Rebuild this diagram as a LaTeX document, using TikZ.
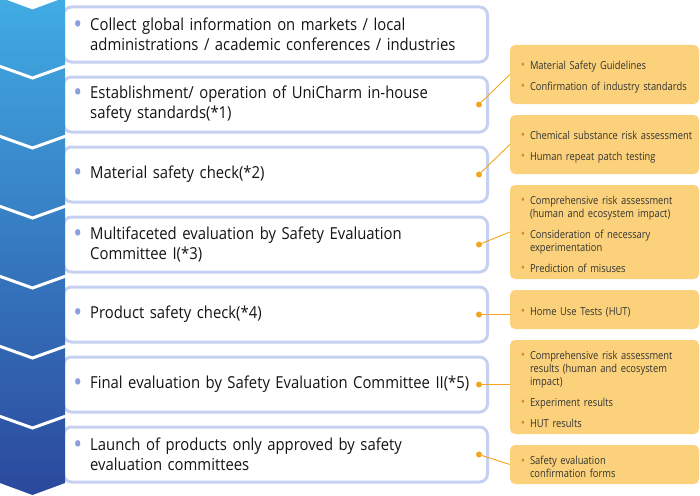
\documentclass[tikz,border=0pt]{standalone}
\usepackage{fontspec}
\setmainfont[FakeStretch=0.9]{Open Sans}
\newfontfamily\notefont[FakeStretch=0.85]{Open Sans}
\usepackage{xcolor}
\usepackage{tikz}
\definecolor{chevtop}{HTML}{41ACE3}
\definecolor{chevmid}{HTML}{337DC9}
\definecolor{chevbot}{HTML}{2B489D}
\definecolor{boxline}{HTML}{C6D1F1}
\definecolor{bulletblue}{HTML}{8A9EE0}
\definecolor{notefill}{HTML}{FBD27B}
\definecolor{notedot}{HTML}{DC8A25}
\definecolor{linkorange}{HTML}{F2A51E}
\definecolor{textdark}{HTML}{141414}
\definecolor{notetext}{HTML}{333333}
\newcommand{\stepdot}{\leavevmode\llap{\textcolor{bulletblue}{\raisebox{-3pt}{\scalebox{1.6}{•}}}\hspace{8pt}}}
\newcommand{\noteitem}[1]{\par\hangindent=14.5pt\hangafter=0\noindent
  \llap{\textcolor{notedot}{\raisebox{-0.8pt}{\scalebox{1.2}{•}}}\hspace{5pt}}#1\par}
\newcommand{\notegap}{\vspace{8pt}}
\tikzset{
  stepbox/.style={draw=boxline, line width=3pt, rounded corners=8pt, fill=white,
    minimum width=424pt, minimum height=55pt, inner sep=0pt},
  steptext/.style={anchor=west, text width=395pt, align=left, inner sep=0pt,
    text=textdark, font=\fontsize{16.5}{20}\selectfont},
  notebox/.style={fill=notefill, rounded corners=5pt, minimum width=189pt,
    text width=178pt, inner xsep=5.5pt, inner ysep=0pt, align=left,
    text=notetext, font=\notefont\fontsize{11}{13}\selectfont},
  linkdot/.style={circle, fill=linkorange, inner sep=0pt, minimum size=6pt},
  link/.style={linkorange, line width=0.9pt},
}
\begin{document}
\begin{tikzpicture}[x=1pt, y=-1pt]
  \useasboundingbox (0,0) rectangle (700,495);

  % --- steps (middle column), 70pt apart ---
  \node[stepbox] (b1) at (275.5,34.5) {};
  \node[stepbox] (b2) at (275.5,104.5) {};
  \node[stepbox] (b3) at (275.5,174.5) {};
  \node[stepbox] (b4) at (275.5,244.5) {};
  \node[stepbox] (b5) at (275.5,314.5) {};
  \node[stepbox] (b6) at (275.5,384.5) {};
  \node[stepbox] (b7) at (275.5,454.5) {};
  \node[steptext] (s1) at (90,34.5) {\stepdot Collect global information on markets / local\\
    administrations / academic conferences / industries};
  \node[steptext] (s2) at (90,104.5) {\stepdot Establishment/ operation of UniCharm in-house\\
    safety standards(*1)};
  \node[steptext] (s3) at (90,174.5) {\stepdot Material safety check(*2)};
  \node[steptext] (s4) at (90,244.5) {\stepdot Multifaceted evaluation by Safety Evaluation\\
    Committee I(*3)};
  \node[steptext] (s5) at (90,314.5) {\stepdot Product safety check(*4)};
  \node[steptext] (s6) at (90,384.5) {\stepdot Final evaluation by Safety Evaluation Committee II(*5)};
  \node[steptext] (s7) at (90,454.5) {\stepdot Launch of products only approved by safety\\
    evaluation committees};

  % --- chevron column ---
  \shade[top color=chevtop, middle color=chevmid, bottom color=chevbot]
    (0,-2.5) -- (32.5,9.5) -- (65,-2.5) -- (65,483) -- (32.5,495) -- (0,483) -- cycle;
  \foreach \k in {0,...,5}
    \draw[white, line width=3pt] (-1,{66+70*\k}) -- (32.5,{78+70*\k}) -- (66,{66+70*\k});

  % --- notes (right column) ---
  \node[notebox, minimum height=59pt] (n1) at (604.5,74.5)
    {\noteitem{Material Safety Guidelines}\notegap
     \noteitem{Confirmation of industry standards}};
  \node[notebox, minimum height=59pt] (n2) at (604.5,144.5)
    {\noteitem{Chemical substance risk assessment}\notegap
     \noteitem{Human repeat patch testing}};
  \node[notebox, minimum height=94pt] (n3) at (604.5,232)
    {\noteitem{Comprehensive risk assessment\newline (human and ecosystem impact)}\notegap
     \noteitem{Consideration of necessary\newline experimentation}\notegap
     \noteitem{Prediction of misuses}};
  \node[notebox, minimum height=39pt] (n4) at (604.5,309.5)
    {\noteitem{Home Use Tests (HUT)}};
  \node[notebox, minimum height=94pt] (n5) at (604.5,387)
    {\noteitem{Comprehensive risk assessment\newline results (human and ecosystem\newline impact)}\notegap
     \noteitem{Experiment results}\notegap
     \noteitem{HUT results}};
  \node[notebox, minimum height=39pt] (n6) at (604.5,464.5)
    {\noteitem{Safety evaluation\newline confirmation forms}};

  % --- links from steps to notes ---
  \node[linkdot] (d2) at (479,104.5) {};
  \node[linkdot] (d3) at (479,174.5) {};
  \node[linkdot] (d4) at (479,244.5) {};
  \node[linkdot] (d5) at (479,314.5) {};
  \node[linkdot] (d6) at (479,384.5) {};
  \node[linkdot] (d7) at (479,454.5) {};
  \draw[link] (d2) -- (n1.west);
  \draw[link] (d3) -- (n2.west);
  \draw[link] (d4) -- (n3.west);
  \draw[link] (d5) -- (d5 -| n4.west);
  \draw[link] (d6) -- (d6 -| n5.west);
  \draw[link] (d7) -- (n6.west);
\end{tikzpicture}
\end{document}
